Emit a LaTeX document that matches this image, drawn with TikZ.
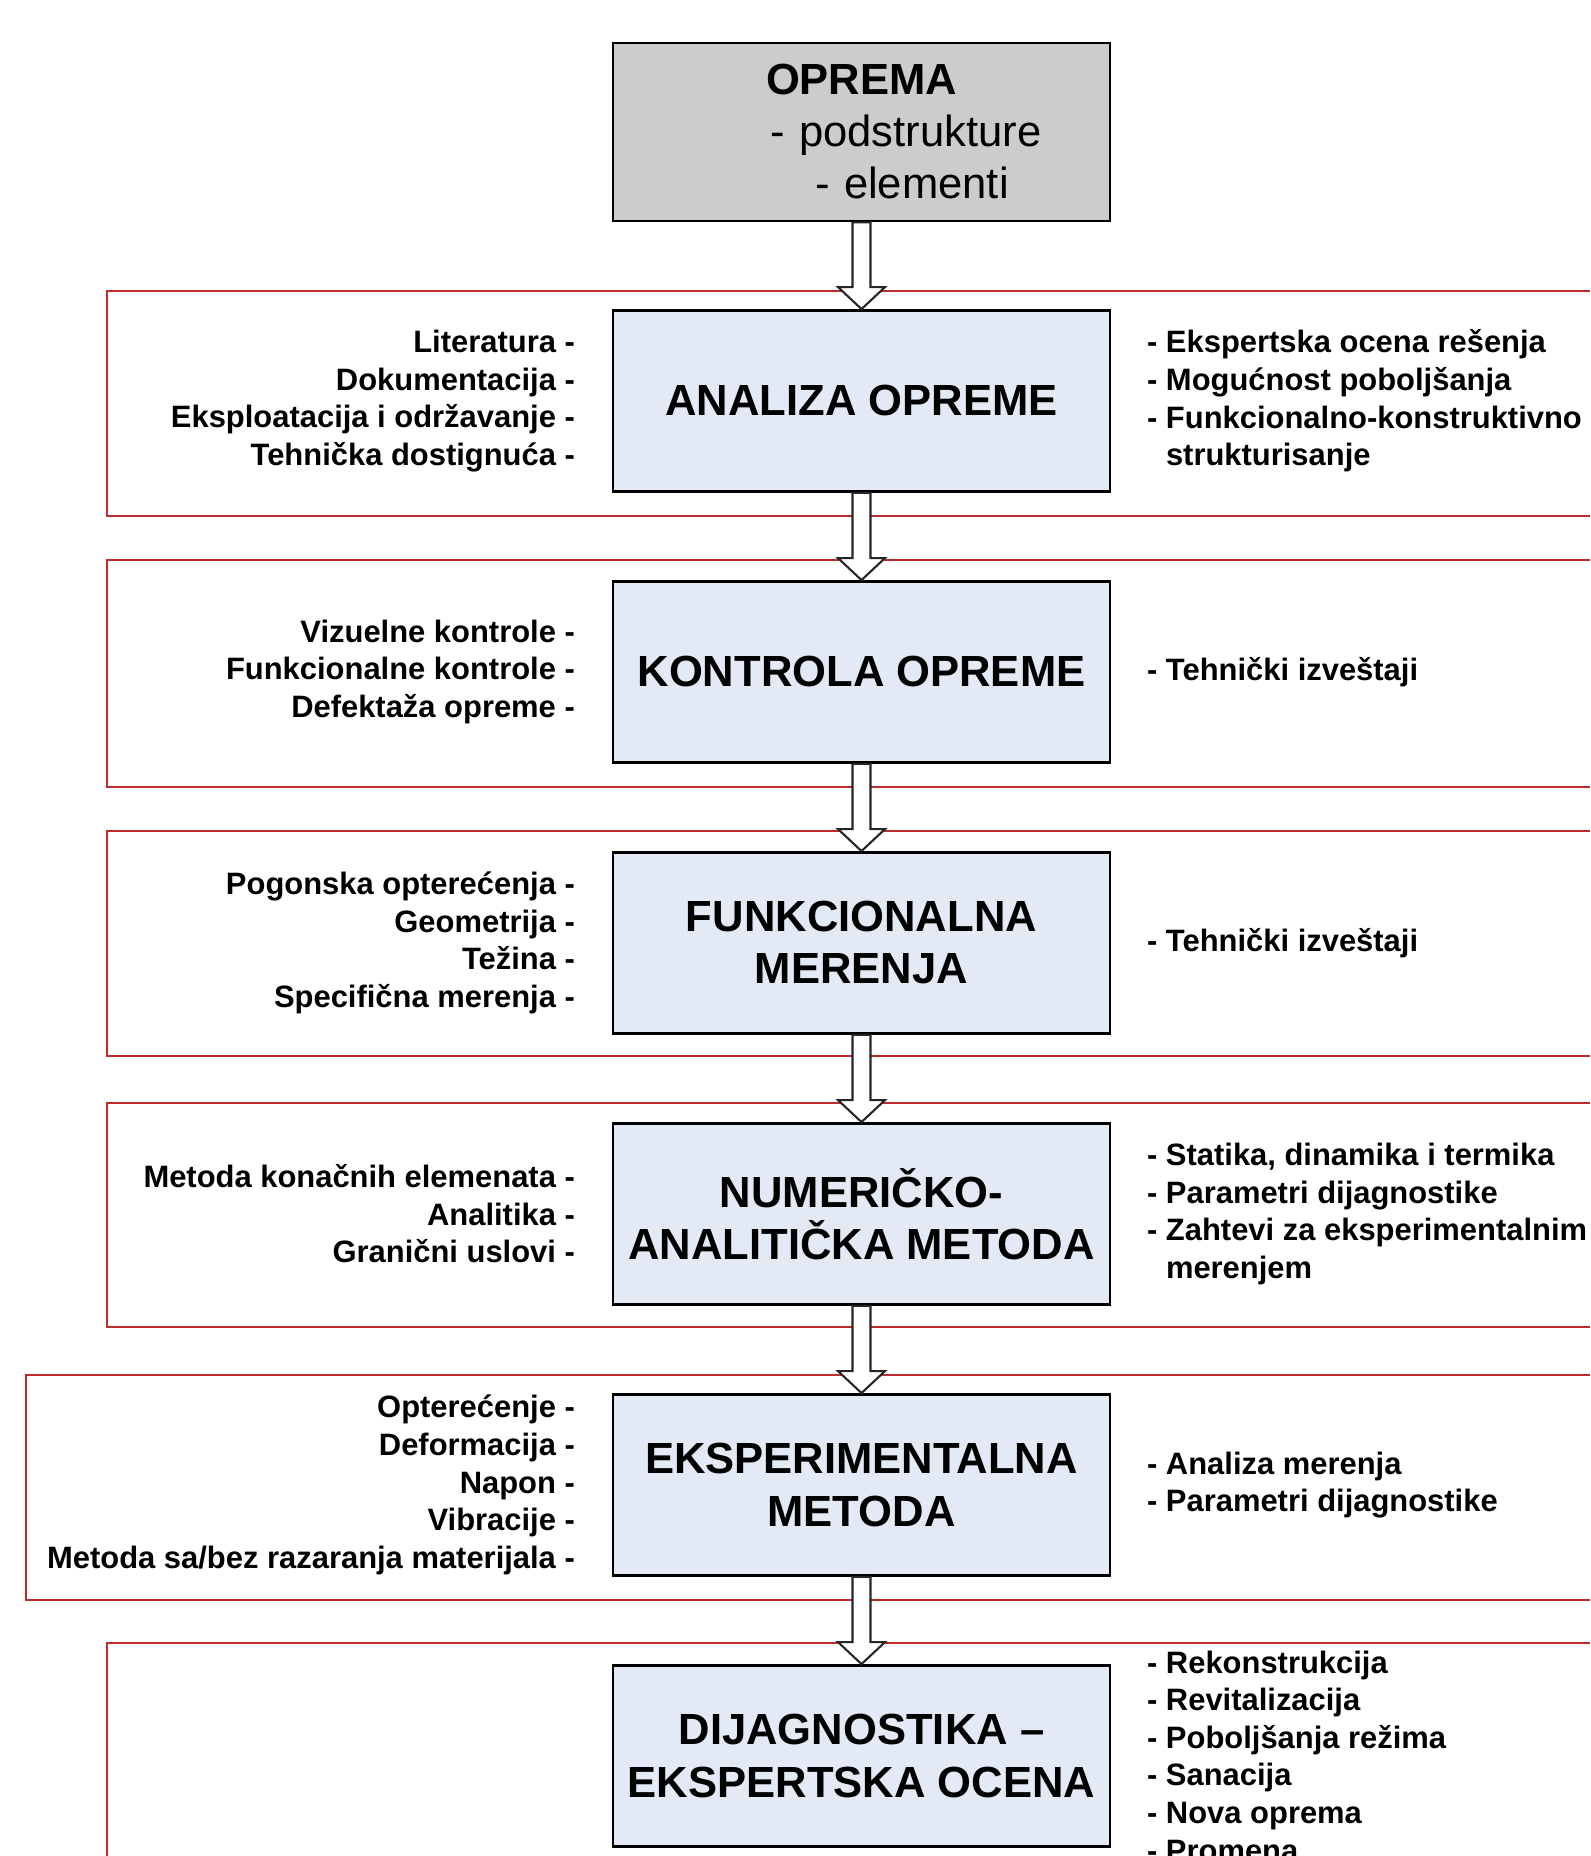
\documentclass[tikz,border=0pt]{standalone}
\usepackage{fontspec}
\setmainfont{Liberation Sans}
\RequirePackage{tikz}
\RequirePackage{tkz-euclide}
\usetikzlibrary{calc}
\usetikzlibrary{positioning}

\definecolor{framered}{RGB}{190,45,45}
\definecolor{boxblue}{RGB}{228,234,245}
\definecolor{boxgray}{RGB}{204,204,204}

\tikzset{
  stagebox/.style={draw=black, line width=0.8pt, fill=boxblue, minimum width=4.97cm,
    minimum height=1.81cm, inner sep=0pt, align=center,
    font=\fontsize{12.4}{14.8}\selectfont\bfseries},
  headbox/.style={stagebox, fill=boxgray, minimum height=1.78cm, text width=4.97cm,
    align=left, font=\fontsize{12.4}{14.8}\selectfont},
  srcs/.style={inner sep=0pt, align=right, font=\fontsize{8.8}{10.7}\selectfont\bfseries},
  outs/.style={inner sep=0pt, align=left, font=\fontsize{8.8}{10.7}\selectfont\bfseries},
  redframe/.style={draw=framered, line width=0.7pt},
  tube/.style={draw=black!85, line width=0.6pt, fill=white, line join=miter},
}

% hollow arrow from the bottom of one box to the top of the next
\newcommand{\tubearrow}[2]{%
  \draw[tube] let \p1=(#1.south), \p2=(#2.north) in
    (\x1-0.9mm,\y1) -- (\x1-0.9mm,\y2+2.2mm) -- (\x1-2.35mm,\y2+2.2mm) -- (\x2,\y2)
    -- (\x1+2.35mm,\y2+2.2mm) -- (\x1+0.9mm,\y2+2.2mm) -- (\x1+0.9mm,\y1) -- cycle;}

\begin{document}
\begin{tikzpicture}
                    \useasboundingbox (0,0) rectangle (15.9,18.56);

                    \tkzDefPoint(8.615,17.24){P0}
                    \tkzDefPoint(8.615,14.55){P1}
                    \tkzDefPoint(8.615,11.84){P2}
                    \tkzDefPoint(8.615,9.13){P3}
                    \tkzDefPoint(8.615,6.42){P4}
                    \tkzDefPoint(8.615,3.71){P5}
                    \tkzDefPoint(8.615,1.00){P6}

                    % red frames, open to the right
                    \draw[redframe] (15.9,15.65) -- (1.07,15.65) -- (1.07,13.40) -- (15.9,13.40);
                    \draw[redframe] (15.9,12.96) -- (1.07,12.96) -- (1.07,10.69) -- (15.9,10.69);
                    \draw[redframe] (15.9,10.25) -- (1.07,10.25) -- (1.07,8.00) -- (15.9,8.00);
                    \draw[redframe] (15.9,7.53) -- (1.07,7.53) -- (1.07,5.29) -- (15.9,5.29);
                    \draw[redframe] (15.9,4.81) -- (0.26,4.81) -- (0.26,2.56) -- (15.9,2.56);
                    \draw[redframe] (15.9,2.13) -- (1.07,2.13) -- (1.07,0);

                    \node[headbox] (oprema) at (P0)
                        {\hspace*{1.53cm}\textbf{OPREMA}\\
                         \hspace*{1.57cm}- podstrukture\\
                         \hspace*{2.02cm}- elementi};
                    \node[stagebox] (analiza) at (P1) {ANALIZA OPREME};
                    \node[stagebox] (kontrola) at (P2) {KONTROLA OPREME};
                    \node[stagebox] (merenja) at (P3) {FUNKCIONALNA\\MERENJA};
                    \node[stagebox] (numericka) at (P4) {NUMERIČKO-\\ANALITIČKA METODA};
                    \node[stagebox] (eksper) at (P5) {EKSPERIMENTALNA\\METODA};
                    \node[stagebox] (dijag) at (P6) {DIJAGNOSTIKA –\\EKSPERTSKA OCENA};

                    \node[srcs, left=3.6mm of analiza] (analiza-in)
                        {Literatura -\\Dokumentacija -\\Eksploatacija i održavanje -\\Tehnička dostignuća -};
                    \node[outs, right=3.5mm of analiza] (analiza-out)
                        {- Ekspertska ocena rešenja\\- Mogućnost poboljšanja\\- Funkcionalno-konstruktivno\\\phantom{- }strukturisanje};

                    \node[srcs, left=3.6mm of kontrola] (kontrola-in)
                        {Vizuelne kontrole -\\Funkcionalne kontrole -\\Defektaža opreme -};
                    \node[outs, right=3.5mm of kontrola] (kontrola-out) {- Tehnički izveštaji};

                    \node[srcs, left=3.6mm of merenja] (merenja-in)
                        {Pogonska opterećenja -\\Geometrija -\\Težina -\\Specifična merenja -};
                    \node[outs, right=3.5mm of merenja] (merenja-out) {- Tehnički izveštaji};

                    \node[srcs, left=3.6mm of numericka] (numericka-in)
                        {Metoda konačnih elemenata -\\Analitika -\\Granični uslovi -};
                    \node[outs, right=3.5mm of numericka] (numericka-out)
                        {- Statika, dinamika i termika\\- Parametri dijagnostike\\- Zahtevi za eksperimentalnim\\\phantom{- }merenjem};

                    \node[srcs, left=3.6mm of eksper] (eksper-in)
                        {Opterećenje -\\Deformacija -\\Napon -\\Vibracije -\\Metoda sa/bez razaranja materijala -};
                    \node[outs, right=3.5mm of eksper] (eksper-out)
                        {- Analiza merenja\\- Parametri dijagnostike};

                    \node[outs, right=3.5mm of dijag] (dijag-out)
                        {- Rekonstrukcija\\- Revitalizacija\\- Poboljšanja režima\\- Sanacija\\- Nova oprema\\- Promena};

                    \tubearrow{oprema}{analiza}
                    \tubearrow{analiza}{kontrola}
                    \tubearrow{kontrola}{merenja}
                    \tubearrow{merenja}{numericka}
                    \tubearrow{numericka}{eksper}
                    \tubearrow{eksper}{dijag}
\end{tikzpicture}
\end{document}
